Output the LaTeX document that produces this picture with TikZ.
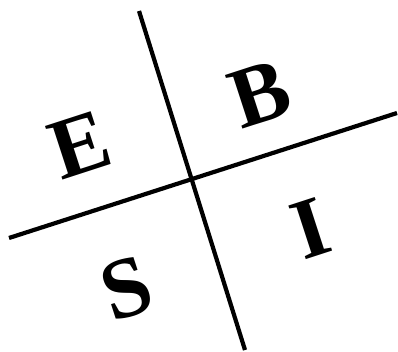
\documentclass[tikz,border=0pt]{standalone}
\usepackage{fontspec}
\setmainfont{Liberation Serif}

\begin{document}
\begin{tikzpicture}[x=1pt,y=-1pt,
  quadrant/.style={font=\fontsize{86}{86}\selectfont\bfseries,rotate=18,inner sep=0pt}]
\useasboundingbox (0,0) rectangle (398,352);
\draw[line width=4.2pt] (139,11) -- (245,350);
\draw[line width=4.2pt] (9,238) -- (397,113);
\node[quadrant] (e) at (80,145) {E};
\node[quadrant] (b) at (260,94) {B};
\node[quadrant] (s) at (127,288) {S};
\node[quadrant] (i) at (311,229) {I};
\end{tikzpicture}
\end{document}
